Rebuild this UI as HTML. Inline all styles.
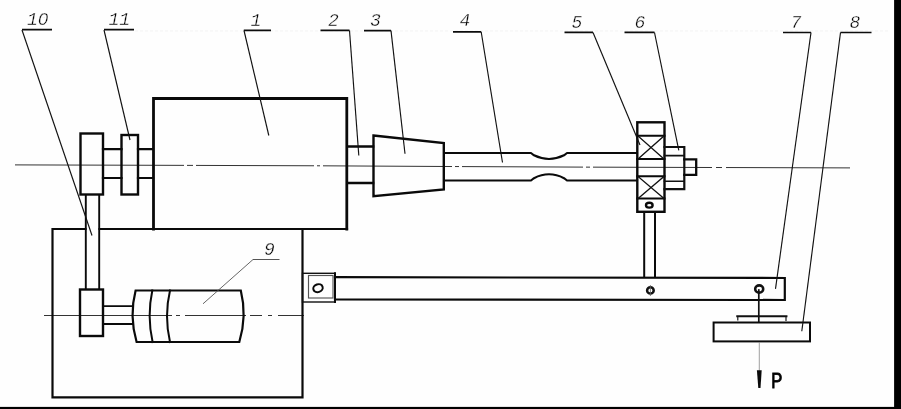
<!DOCTYPE html>
<html>
<head>
<meta charset="utf-8">
<title>Test rig diagram</title>
<style>
html,body{margin:0;padding:0;background:#fff;}
body{width:901px;height:409px;overflow:hidden;position:relative;font-family:"Liberation Sans",sans-serif;}
svg{position:absolute;left:0;top:0;display:block;}
.k{fill:none;stroke:#0a0a0a;stroke-width:2.4;stroke-linejoin:miter;stroke-linecap:square;}
.m{fill:none;stroke:#111;stroke-width:1.7;stroke-linecap:square;}
.t{fill:none;stroke:#111;stroke-width:1.15;}
.u{fill:none;stroke:#0c0c0c;stroke-width:1.7;}
.c{fill:none;stroke:#333;stroke-width:1;}
text{font-family:"Liberation Mono",monospace;font-style:italic;font-size:18px;fill:#000;stroke:#fff;stroke-width:0.35;}
</style>
</head>
<body>
<svg width="901" height="409" viewBox="0 0 901 409">
<rect x="0" y="0" width="901" height="409" fill="#fefefe"/>

<path d="M135 31 H890" style="fill:none;stroke:#f3f3f3;stroke-width:1;stroke-dasharray:3 2"/>
<!-- centre lines -->
<path class="c" d="M15 164.90 L184 165.37 M187 165.38 L193 165.40 M196 165.41 L314 165.78 M317 165.79 L320 165.81 M323 165.82 L452 166.52 M455 166.54 L459 166.56 M462 166.58 L583 167.12 M586 167.13 L590 167.15 M593 167.15 L712 167.50 M716 167.51 L722 167.53 M726 167.54 L850 167.90"/>
<path class="c" d="M44 315.5 H172 M176 315.5 H180 M185 315.5 H246 M250 315.5 H262 M268 315.5 H272 M278 315.5 H304"/>

<!-- base box -->
<path class="k" d="M85.5 229 H52.5 V397.4 H302.5 V229" style="stroke-width:2.2"/>
<path class="k" d="M99.5 229 H347" style="stroke-width:2.2"/>
<!-- main cylinder 1 -->
<path class="k" d="M153.5 229 V98.5 H346.8 V229" style="stroke-width:2.8"/>

<!-- pulleys on main shaft -->
<rect class="k" x="80.5" y="133.5" width="22.5" height="61"/>
<rect class="k" x="121.5" y="135" width="16.5" height="59.5"/>
<path class="k" d="M103 149.2 H121.5 M103 178 H121.5 M138 149.2 H153 M138 178 H153" style="stroke-width:2.2"/>

<!-- belt -->
<path class="k" d="M85.8 195 V289 M99.2 195 V289" style="stroke-width:1.9"/>

<!-- small pulley & motor -->
<rect class="k" x="80" y="289.5" width="23" height="46.5"/>
<path class="k" d="M103 306.2 H132.5 M103 324 H132.5" style="stroke-width:1.8"/>
<path class="k" d="M135.6 290.5 H240.8 Q247.2 316 239.3 342 H136.6 Q129 316 135.6 290.5 Z" style="stroke-width:2.2"/>
<path class="k" d="M152.3 290.5 Q146.8 316 152.6 342 M170 290.5 Q164 316 170 342" style="stroke-width:2"/>

<!-- bracket + lever -->
<rect class="m" x="302.5" y="273.3" width="32.5" height="28.7" style="stroke-width:1.4"/>
<rect class="t" x="308.5" y="275.5" width="24.5" height="22.5" style="stroke:#555"/>
<path class="k" d="M335 273.3 V302" style="stroke-width:2"/>
<ellipse class="k" cx="318" cy="288.2" rx="4.8" ry="3.9" transform="rotate(-18 318 288.2)" style="stroke-width:2"/>
<path class="k" d="M335 277.2 L784.8 278 V300 L335 299.5" style="stroke-width:2.2"/>
<ellipse class="m" cx="650.4" cy="290.4" rx="3.3" ry="3.1" style="stroke-width:2.5"/><path class="t" d="M650.4 285 V296" style="stroke-width:0.8;stroke:#666"/>
<ellipse class="m" cx="759.2" cy="289" rx="4" ry="3.6" style="stroke-width:2.6"/>

<!-- shaft 2 and cone 3 -->
<path class="k" d="M348 146.5 H373 M348 183 H373" style="stroke-width:2.6"/>
<path class="k" d="M373.5 135.5 L443.8 143 V189.5 L373.5 196.3 Z"/>

<!-- specimen 4 -->
<path class="k" d="M444.5 153 H531 L534 155.3 Q549 162.6 564 155.3 L567 153 H637" style="stroke-width:2.1;stroke-linejoin:round"/>
<path class="k" d="M444.5 180.5 H531 L534 178.2 Q549 170.4 564 178.2 L567 180.5 H637" style="stroke-width:2.1;stroke-linejoin:round"/>

<!-- bearing 5 -->
<rect class="k" x="637.3" y="122.3" width="27.2" height="89.5"/>
<path class="k" d="M637.3 135.8 H664.5 M637.3 159 H664.5 M637.3 176.2 H664.5 M637.3 198.6 H664.5" style="stroke-width:2"/>
<path class="m" d="M638 136 L664 159 M664 136 L638 159 M638 176.4 L664 198.6 M664 176.4 L638 198.6" style="stroke-width:1.3"/>
<ellipse class="k" cx="649.3" cy="205.2" rx="3.3" ry="2.4" style="stroke-width:2.4"/>
<!-- nut 6 -->
<path class="m" d="M664.5 147 H684.3 V189.2 H664.5" style="stroke-width:2.2"/>
<path class="m" d="M664.5 155.6 H684 M664.5 181.2 H684" style="stroke-width:1.6"/>
<path class="k" d="M684.3 159.3 H696.2 V174.9 H684.3" style="stroke-width:2.3"/>
<!-- rod -->
<path class="k" d="M644.2 212 V277 M655 212 V277" style="stroke-width:2"/>

<!-- hanger and weight 8 -->
<path class="m" d="M758.8 290 V321.5" style="stroke-width:1.7"/>
<path class="m" d="M737.3 316.3 H786.4" style="stroke-width:2.1"/>
<path class="t" d="M737.8 316 V320.5 M786 316 V321"/>
<rect class="k" x="713.6" y="322.5" width="96.4" height="18.9" style="stroke-width:2"/>
<path class="t" d="M759.3 342 V372" style="stroke-width:0.8;stroke:#888"/>
<path d="M756.9 370.2 L761.7 370.2 L760.5 388 L758.3 388 Z" fill="#0a0a0a"/>

<!-- leaders -->
<path class="u" d="M22 29.7 H52 M104 29.7 H134 M243.8 30.4 H271 M320.5 30.4 H349.5 M364 30.6 H391 M453 31.8 H481.3 M564.5 32.4 H593 M624.5 32.4 H654.5 M783 32.5 H811 M840.5 32.5 H871.5"/>
<path class="t" d="M22 30 L92 235.5"/>
<path class="t" d="M104 30 L130 140"/>
<path class="t" d="M244 30.5 L268.8 135.5"/>
<path class="t" d="M349.5 30.5 L358.8 155.5"/>
<path class="t" d="M391 30.6 L405 153.8"/>
<path class="t" d="M481.2 32 L502.5 162.5"/>
<path class="t" d="M593 32.5 L640 145"/>
<path class="t" d="M654.5 32.5 L678.8 150.3"/>
<path class="t" d="M811 32.5 L775.5 288.8"/>
<path class="t" d="M840.5 32.5 L801.8 331.2"/>
<path class="t" d="M253 259.5 H279.5" style="stroke-width:1;stroke:#555"/>
<path class="t" d="M253 259.5 L203 303.8" style="stroke-width:0.9;stroke:#555"/>

<!-- labels -->
<g opacity="0.999">
<text x="27" y="25.2">10</text>
<ellipse cx="43.3" cy="19" rx="1.9" ry="1.7" fill="#fefefe"/>
<text x="108.5" y="25.2">11</text>
<text x="250.5" y="25.6">1</text>
<text x="328" y="25.6">2</text>
<text x="370" y="25.8">3</text>
<text x="459.5" y="26.3">4</text>
<text x="571.5" y="27.8">5</text>
<text x="634.5" y="27.8">6</text>
<text x="790.5" y="27.8">7</text>
<text x="849.5" y="27.8">8</text>
<text x="264" y="255.2">9</text>
<text transform="translate(771.3 388.2) scale(0.74 1)" style="font-family:'Liberation Sans',sans-serif;font-style:normal;font-size:22.4px;stroke:#000;stroke-width:0.9">P</text>

</g>
<!-- scan borders -->
<rect x="894.1" y="0" width="6.9" height="409" fill="#000"/>
<rect x="0" y="406.9" width="901" height="2.1" fill="#000"/>
</svg>
</body>
</html>
